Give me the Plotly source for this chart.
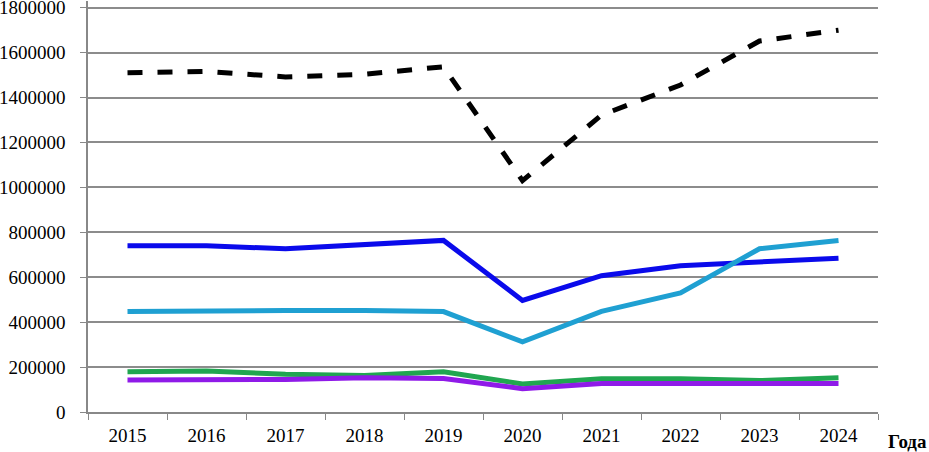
import plotly.graph_objects as go

years = ["2015", "2016", "2017", "2018", "2019", "2020", "2021", "2022", "2023", "2024"]
total = [1510000, 1516000, 1492000, 1504000, 1537000, 1030000, 1322000, 1456000, 1652000, 1700000]
blue = [740000, 740000, 727000, 743000, 764000, 497000, 607000, 651000, 668000, 685000]
cyan = [447000, 451000, 452000, 452000, 447000, 312000, 448000, 530000, 727000, 764000]
green = [179000, 183000, 168000, 162000, 179000, 125000, 148000, 148000, 140000, 153000]
purple = [143000, 143000, 145000, 152000, 149000, 104000, 127000, 127000, 127000, 127000]
y_ticks = [0, 200000, 400000, 600000, 800000, 1000000, 1200000, 1400000, 1600000, 1800000]

font = "Liberation Serif"

fig = go.Figure()
fig.add_trace(go.Scatter(x=years, y=total, mode="lines",
                         line=dict(color="#000000", width=5, dash="dash")))
fig.add_trace(go.Scatter(x=years, y=blue, mode="lines",
                         line=dict(color="#0A0AEB", width=5)))
fig.add_trace(go.Scatter(x=years, y=cyan, mode="lines",
                         line=dict(color="#1FA0D2", width=5)))
fig.add_trace(go.Scatter(x=years, y=green, mode="lines",
                         line=dict(color="#20A650", width=5)))
fig.add_trace(go.Scatter(x=years, y=purple, mode="lines",
                         line=dict(color="#8F1AE8", width=5)))

# top gridline (at the highest tick value), drawn below the data
fig.add_shape(type="line", xref="paper", x0=0, x1=1, yref="y",
              y0=y_ticks[-1], y1=y_ticks[-1], layer="below",
              line=dict(color="#8c8c8c", width=1.5))

fig.update_layout(
    width=929, height=452,
    margin=dict(l=88, r=51, t=1, b=40),
    paper_bgcolor="white", plot_bgcolor="white",
    showlegend=False,
    font=dict(family=font, size=19, color="black"),
    xaxis=dict(type="category", range=[-0.5, 9.5], tickson="boundaries",
               ticks="outside", ticklen=6, tickcolor="#888888",
               ticklabelstandoff=5,
               showline=True, linecolor="#888888", linewidth=1.5,
               showgrid=False, automargin=False,
               tickfont=dict(family=font, size=19)),
    yaxis=dict(range=[0, 1830000], tickvals=y_ticks,
               ticktext=[str(v) for v in y_ticks],
               ticks="outside", ticklen=6, tickcolor="#888888",
               ticklabelstandoff=11, ticklabeloverflow="allow",
               showline=True, linecolor="#888888", linewidth=1.5,
               showgrid=True, gridcolor="#8c8c8c", gridwidth=1.5,
               zeroline=False, automargin=False,
               tickfont=dict(family=font, size=19)),
    annotations=[dict(text="<b>Года</b>", x=1.0, y=0, xref="paper", yref="paper",
                      xanchor="right", yanchor="top", xshift=51, yshift=-17,
                      showarrow=False, font=dict(family=font, size=19))],
)

fig.write_html("out.html", config={"displayModeBar": False},
               post_script="document.body.style.margin='0';")
